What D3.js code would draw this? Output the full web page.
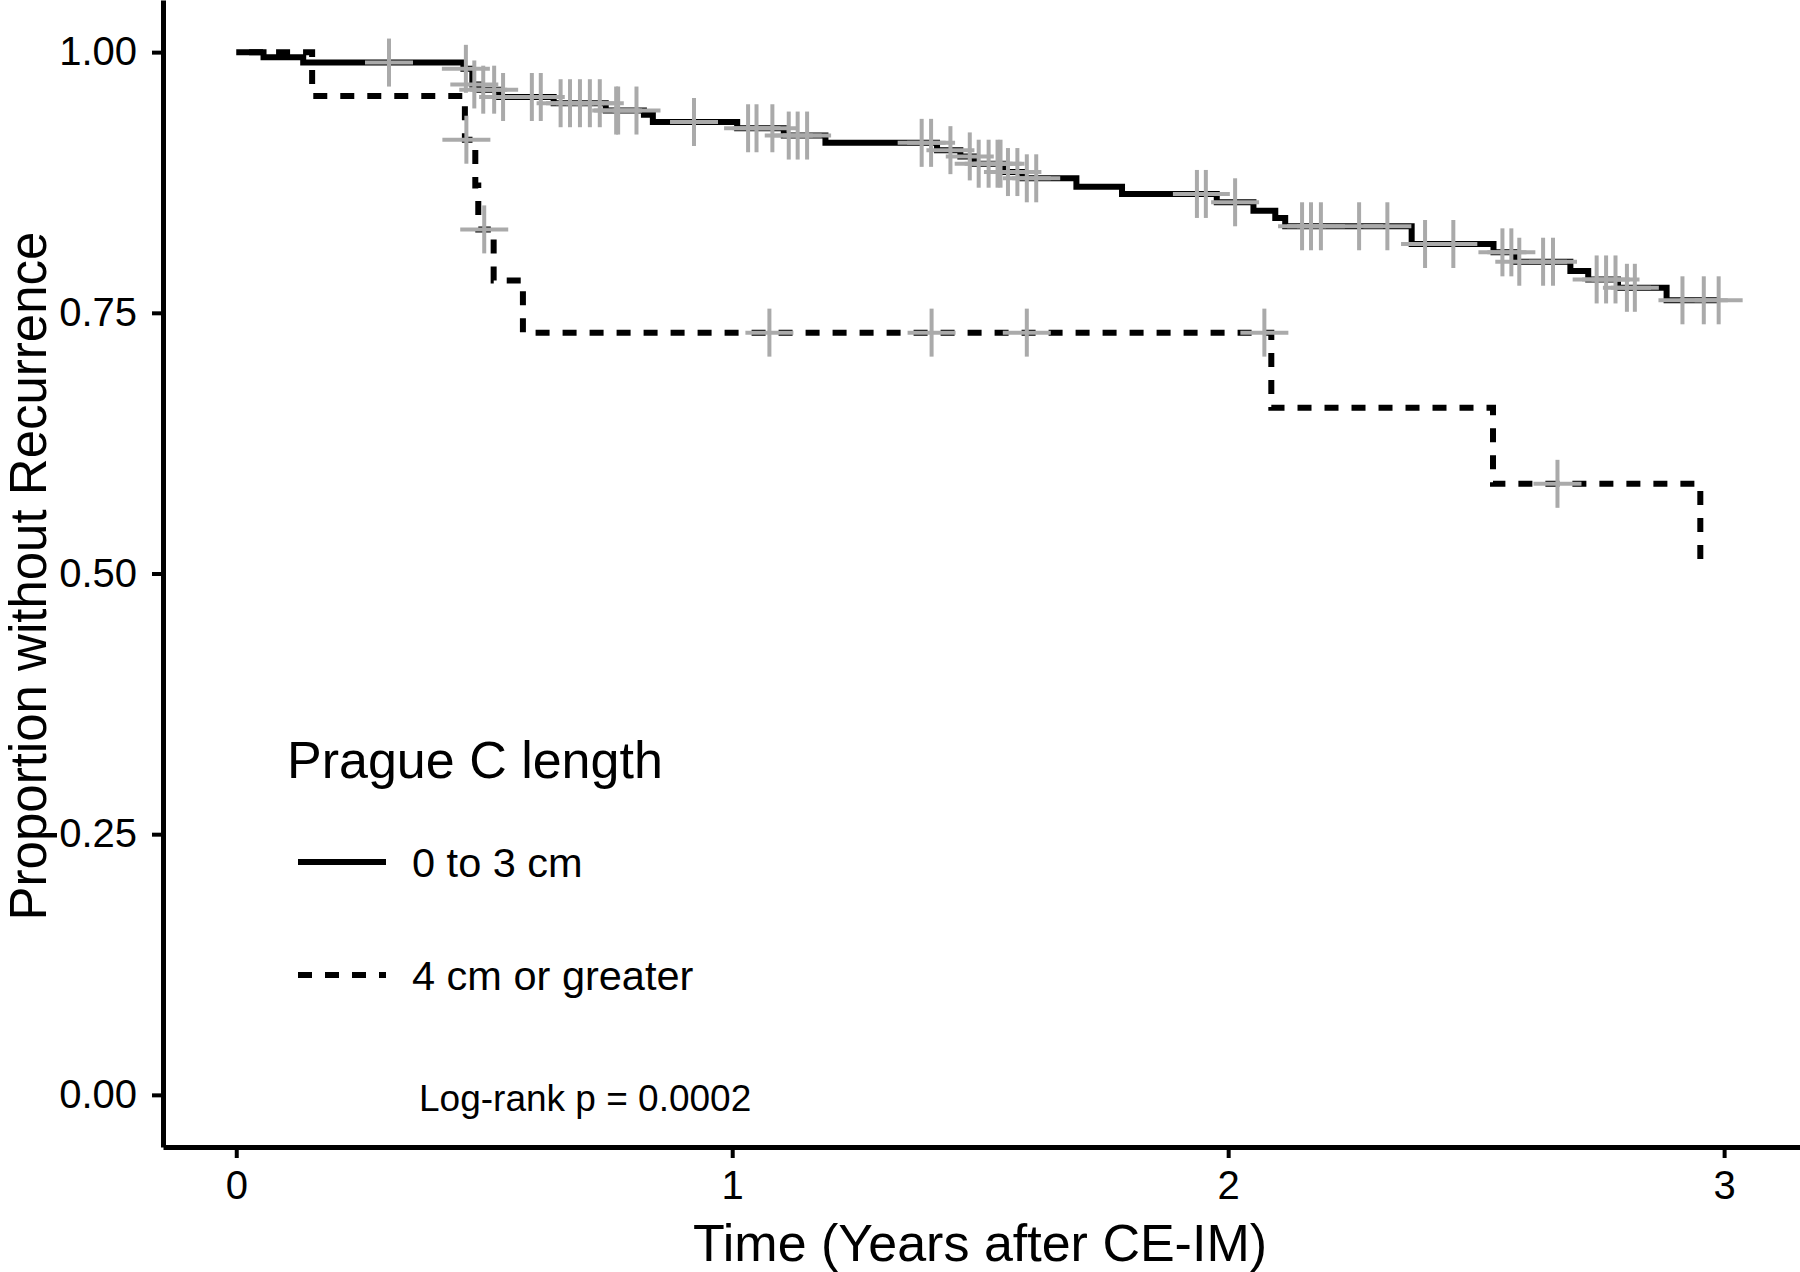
<!DOCTYPE html>
<html>
<head>
<meta charset="utf-8">
<script src="https://cdn.jsdelivr.net/npm/d3@7/dist/d3.min.js"></script>
<style>
  html, body { margin: 0; padding: 0; background: #ffffff; }
  svg { display: block; }
  text { font-family: "Liberation Sans", Arial, Helvetica, sans-serif; fill: #000; }
</style>
</head>
<body>
<svg id="chart" width="1800" height="1272"></svg>
<script>
// ---------------- DATA ----------------
// Group "0 to 3 cm": step times (years) and survival after each step
const solidTimes = [0, 0.055, 0.135, 0.458, 0.476, 0.490, 0.530, 0.640, 0.745, 0.822, 0.840,
  1.010, 1.104, 1.188, 1.413, 1.460, 1.488, 1.550, 1.585, 1.694, 1.786, 1.977, 2.051, 2.095,
  2.115, 2.370, 2.535, 2.578, 2.690, 2.726, 2.786, 2.884];
const solidSurv = [1.000, 0.995, 0.990, 0.984, 0.969, 0.964, 0.957, 0.951, 0.944, 0.940, 0.933,
  0.927, 0.920, 0.913, 0.906, 0.900, 0.893, 0.885, 0.879, 0.871, 0.864, 0.856, 0.848, 0.841,
  0.833, 0.816, 0.808, 0.799, 0.790, 0.782, 0.774, 0.762];
const solidEnd = 2.989;
const solidCensor = [0.308, 0.463, 0.480, 0.498, 0.520, 0.538, 0.596, 0.614, 0.654, 0.673, 0.693,
  0.713, 0.733, 0.766, 0.770, 0.807, 0.923, 1.032, 1.049, 1.081, 1.114, 1.132, 1.151, 1.382,
  1.401, 1.440, 1.479, 1.497, 1.517, 1.535, 1.541, 1.556, 1.575, 1.594, 1.613, 1.937, 1.955,
  2.014, 2.149, 2.167, 2.187, 2.264, 2.321, 2.397, 2.454, 2.553, 2.571, 2.587, 2.635, 2.655,
  2.743, 2.762, 2.781, 2.804, 2.820, 2.916, 2.959, 2.989];

// Group "4 cm or greater"
const dashTimes = [0, 0.153, 0.461, 0.482, 0.488, 0.519, 0.578, 2.087, 2.534, 2.952];
const dashSurv  = [1.000, 0.958, 0.916, 0.872, 0.830, 0.781, 0.731, 0.659, 0.586, 0.514];
const dashEnd = null; // curve ends at its last drop
const dashCensor = [0.464, 0.500, 1.075, 1.402, 1.594, 2.073, 2.664];

const xTicks = [0, 1, 2, 3];
const yTicks = [0, 0.25, 0.5, 0.75, 1];
const legendTitle = "Prague C length";
const groupLabels = ["0 to 3 cm", "4 cm or greater"];
const xTitle = "Time (Years after CE-IM)";
const yTitle = "Proportion without Recurrence";
const pText = "Log-rank p = 0.0002";

// ---------------- LAYOUT ----------------
const svg = d3.select("#chart");
const panel = { left: 163, right: 1800, top: 0, bottom: 1147 };
const x = d3.scaleLinear().domain([-0.1477, 3.153]).range([panel.left, panel.right]);
const y = d3.scaleLinear().domain([-0.05, 1.05]).range([panel.bottom, panel.top]);
const DASH = 14, GAP = 13;

svg.append("rect").attr("width", 1800).attr("height", 1272).attr("fill", "#fff");

// ---------------- CURVES ----------------
function stepPoints(times, surv, end) {
  const pts = times.map((t, i) => [t, surv[i]]);
  if (end !== null && end !== undefined) pts.push([end, surv[surv.length - 1]]);
  return pts;
}
function survAt(times, surv, t) {
  let s = surv[0];
  for (let i = 0; i < times.length; i++) { if (times[i] <= t) s = surv[i]; }
  return s;
}
const line = d3.line().x(d => x(d[0])).y(d => y(d[1])).curve(d3.curveStepAfter);

const gCurves = svg.append("g");
gCurves.append("path")
  .attr("d", line(stepPoints(solidTimes, solidSurv, solidEnd)))
  .attr("fill", "none").attr("stroke", "#000").attr("stroke-width", 6);
const dashPath = gCurves.append("path")
  .attr("d", line(stepPoints(dashTimes, dashSurv, dashEnd)))
  .attr("fill", "none").attr("stroke", "#000").attr("stroke-width", 6)
  .attr("stroke-dasharray", `${DASH},${GAP}`);
// align the dash pattern so the curve finishes on a dash end
{
  const L = dashPath.node().getTotalLength();
  const period = DASH + GAP;
  const off = (((DASH - L) % period) + period) % period;
  dashPath.attr("stroke-dashoffset", off);
}

// ---------------- CENSOR MARKS ----------------
const crossHalf = 24;
function drawCensors(times, stepT, stepS) {
  const g = svg.append("g").attr("stroke", "#aaaaaa").attr("stroke-width", 4);
  times.forEach(t => {
    const cx = x(t), cy = y(survAt(stepT, stepS, t));
    g.append("line").attr("x1", cx - crossHalf).attr("x2", cx + crossHalf).attr("y1", cy).attr("y2", cy);
    g.append("line").attr("x1", cx).attr("x2", cx).attr("y1", cy - crossHalf).attr("y2", cy + crossHalf);
  });
}
drawCensors(solidCensor, solidTimes, solidSurv);
drawCensors(dashCensor, dashTimes, dashSurv);

// ---------------- AXES ----------------
const yAxis = d3.axisLeft(y).tickValues(yTicks).tickFormat(d3.format(".2f"))
  .tickSize(11).tickSizeOuter(0).tickPadding(15);
const gy = svg.append("g").attr("transform", `translate(${panel.left},0)`).call(yAxis);
gy.select(".domain").attr("stroke-width", 5).attr("stroke", "#000");
gy.selectAll(".tick line").attr("stroke-width", 4).attr("stroke", "#000");
gy.selectAll(".tick text").attr("font-size", 40).attr("font-family", "Liberation Sans, Arial, sans-serif").attr("fill", "#000");

const xAxis = d3.axisBottom(x).tickValues(xTicks).tickFormat(d3.format("d"))
  .tickSize(11).tickSizeOuter(0).tickPadding(13);
const gx = svg.append("g").attr("transform", `translate(0,${panel.bottom})`).call(xAxis);
gx.select(".domain").attr("stroke-width", 5).attr("stroke", "#000");
gx.selectAll(".tick line").attr("stroke-width", 4).attr("stroke", "#000");
gx.selectAll(".tick text").attr("font-size", 40).attr("font-family", "Liberation Sans, Arial, sans-serif").attr("fill", "#000");

// Axis titles
svg.append("text").attr("x", 980).attr("y", 1261).attr("text-anchor", "middle")
  .attr("font-size", 52).text(xTitle);
svg.append("text").attr("transform", "translate(46,576) rotate(-90)").attr("text-anchor", "middle")
  .attr("font-size", 51).text(yTitle);

// ---------------- LEGEND ----------------
svg.append("text").attr("x", 287).attr("y", 778).attr("font-size", 52).text(legendTitle);
const legY = [862, 975];
svg.append("line").attr("x1", 298).attr("x2", 386).attr("y1", legY[0]).attr("y2", legY[0])
  .attr("stroke", "#000").attr("stroke-width", 6);
svg.append("line").attr("x1", 298).attr("x2", 386).attr("y1", legY[1]).attr("y2", legY[1])
  .attr("stroke", "#000").attr("stroke-width", 6).attr("stroke-dasharray", `${DASH},${GAP}`);
groupLabels.forEach((lab, i) => {
  svg.append("text").attr("x", 412).attr("y", legY[i] + 15).attr("font-size", 41.5).text(lab);
});

// p-value
svg.append("text").attr("x", 419).attr("y", 1111).attr("font-size", 37).text(pText);
</script>
</body>
</html>
